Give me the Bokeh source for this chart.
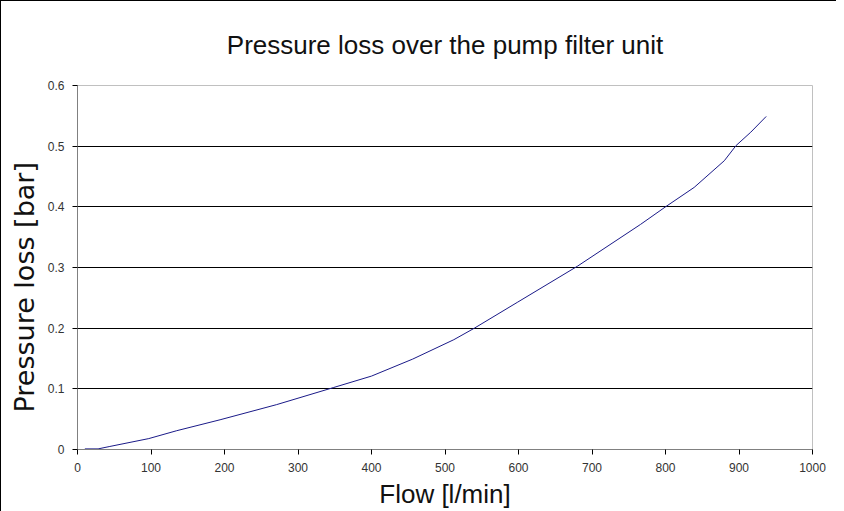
from bokeh.plotting import figure
from bokeh.models import FixedTicker, Range1d, Title
from bokeh.embed import file_html
from bokeh.resources import INLINE

# Data
flow = [10, 28, 44, 97, 135, 194, 271, 348, 400, 456, 512, 540, 599, 680, 766, 800, 839, 880, 896, 916, 937]
loss = [0.001, 0.001, 0.005, 0.018, 0.031, 0.049, 0.074, 0.102, 0.121, 0.149, 0.181, 0.200, 0.243, 0.302,
        0.371, 0.400, 0.432, 0.476, 0.501, 0.523, 0.549]

x_ticks = [0, 100, 200, 300, 400, 500, 600, 700, 800, 900, 1000]
y_ticks = [0, 0.1, 0.2, 0.3, 0.4, 0.5, 0.6]
y_tick_labels = ["0", "0.1", "0.2", "0.3", "0.4", "0.5", "0.6"]
grid_ticks = [0.1, 0.2, 0.3, 0.4, 0.5]

title_text = "Pressure loss over the pump filter unit"
x_label = "Flow [l/min]"
y_label = "Pressure loss [bar]"

FONT = "Liberation Sans"

p = figure(
    x_range=Range1d(0, 1000), y_range=Range1d(0, 0.6),
    frame_width=735, frame_height=364,
    min_border_left=76, min_border_top=84, min_border_right=24, min_border_bottom=0,
    output_backend="svg", toolbar_location=None,
)
p.styles = {"border-top": "1px solid #000000", "border-left": "1px solid #000000"}

p.background_fill_color = "white"
p.border_fill_color = "white"
p.outline_line_color = "#c0c0c0"
p.outline_line_width = 1

p.title.text = title_text
p.title.align = "center"
p.title.text_font = FONT
p.title.text_font_size = "26px"
p.title.text_font_style = "normal"
p.title.text_color = "#111111"
p.title.standoff = 51

p.xgrid.visible = False
p.ygrid.ticker = FixedTicker(ticks=grid_ticks)
p.ygrid.grid_line_color = "#000000"
p.ygrid.grid_line_width = 1

for ax in (p.xaxis[0], p.yaxis[0]):
    ax.axis_line_color = "#808080"
    ax.axis_line_width = 1
    ax.major_tick_line_color = "#000000"
    ax.major_tick_out = 5
    ax.major_tick_in = 0
    ax.minor_tick_line_color = None
    ax.major_label_text_font = FONT
    ax.major_label_text_font_size = "12px"
    ax.major_label_text_color = "#333333"

p.xaxis.ticker = FixedTicker(ticks=x_ticks)
p.xaxis.major_label_standoff = 8
p.xaxis.axis_label = x_label
p.xaxis.axis_label_text_font = FONT
p.xaxis.axis_label_text_font_size = "26px"
p.xaxis.axis_label_text_font_style = "normal"
p.xaxis.axis_label_text_color = "#111111"
p.xaxis.axis_label_standoff = 4

p.yaxis.ticker = FixedTicker(ticks=y_ticks)
p.yaxis.major_label_overrides = {t: l for t, l in zip(y_ticks, y_tick_labels)}
p.yaxis.major_label_standoff = 8

ytitle = Title(text=y_label, align="left", offset=37,
               text_font="DejaVu Sans", text_font_size="27px",
               text_font_style="normal", text_color="#111111", standoff=9)
p.add_layout(ytitle, "left")

p.line(flow, loss, line_color="#1a1a88", line_width=1)

open("out.html", "w").write(file_html(p, INLINE))
